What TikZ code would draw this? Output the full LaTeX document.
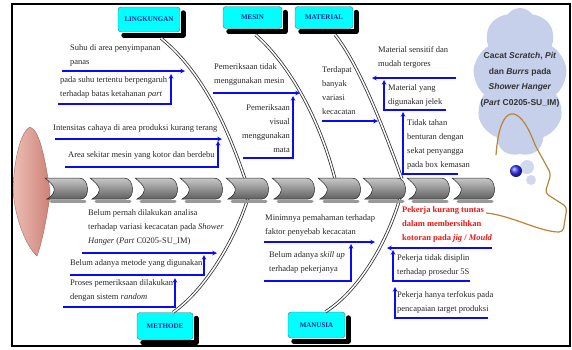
\documentclass[tikz,border=0pt]{standalone}
\usepackage{fontspec}
\setmainfont{Liberation Serif}
\setsansfont{Liberation Sans}
\usetikzlibrary{shapes.symbols}

\definecolor{biru}{RGB}{10,10,245}
\definecolor{awan}{RGB}{198,208,234}
\definecolor{emas}{RGB}{184,134,52}
\definecolor{kotak}{RGB}{0,255,255}
\definecolor{teksbiru}{RGB}{20,30,150}
\definecolor{merah}{RGB}{240,20,20}
\definecolor{ekor}{RGB}{236,190,180}
\definecolor{ekorgelap}{RGB}{205,130,120}
\definecolor{ruasatas}{RGB}{200,200,200}
\definecolor{ruasbawah}{RGB}{95,95,95}

\begin{document}
\begin{tikzpicture}[x=1pt, y=-1pt,
    ket/.style={inner sep=0pt, anchor=north west, align=left, text=black!85, font=\fontsize{8.5}{14}\selectfont},
    panah/.style={->, >=stealth, draw=biru, line width=1.1pt},
    tulang/.style={draw=black!80, line width=0.8pt, double=white, double distance=1.5pt},
    kategori/.style={draw=black!60, fill=kotak, rounded corners=3pt, text=teksbiru, inner sep=1pt,
        font=\fontsize{7}{8}\selectfont\bfseries},
    bayang/.style={draw=black, line width=5pt, line join=round, line cap=round},
    ruas/.style={draw=black!85, line width=0.5pt, top color=ruasatas, bottom color=ruasbawah}]
    \useasboundingbox (0,0) rectangle (572,349);

    \path[left color=ekor, right color=ekorgelap, draw=ekorgelap!80!black, line width=0.4pt]
        (50,190) .. controls (45,160) and (40,130) .. (30,127)
        .. controls (19,133) and (14,165) .. (13,188)
        .. controls (14,215) and (25,245) .. (37,256)
        .. controls (43,240) and (47,215) .. (50,196) -- cycle;

    \coordinate (tl) at (245,179);
    \coordinate (tm) at (335,179);
    \coordinate (tr) at (402,179);
    \coordinate (bl) at (248,198);
    \coordinate (bm) at (400,198);

    \node[kategori, minimum width=62, minimum height=25] (lingk) at (149,19.5) {LINGKUNGAN};
    \node[kategori, minimum width=59, minimum height=22] (mesin) at (252.5,17.5) {MESIN};
    \node[kategori, minimum width=58, minimum height=22] (mat) at (324,17.5) {MATERIAL};
    \node[kategori, minimum width=56, minimum height=27] (meth) at (165,326) {METHODE};
    \node[kategori, minimum width=57, minimum height=26] (manu) at (316.5,325) {MANUSIA};
    \foreach \kt in {lingk,mesin,mat,meth,manu} {
        \draw[bayang] ([xshift=6pt, yshift=-2.8pt]\kt.south west) -- ([xshift=2.8pt, yshift=-2.8pt]\kt.south east)
            -- ([xshift=2.8pt, yshift=-6pt]\kt.north east);
    }

    \draw[tulang] ([xshift=12pt, yshift=-6pt]lingk.south) .. controls (200,70) and (225,120) .. (tl);
    \draw[tulang] ([xshift=3pt, yshift=-6pt]mesin.south) .. controls (290,65) and (320,120) .. (tm);
    \draw[tulang] ([xshift=11pt, yshift=-6pt]mat.south) .. controls (357,62) and (380,118) .. (tr);
    \draw[tulang] ([xshift=8pt]meth.north) .. controls (205,290) and (235,240) .. (bl);
    \draw[tulang] ([xshift=9pt]manu.north) .. controls (360,290) and (388,240) .. (bm);

    \foreach \sx in {45,90,135,180,226,272,318,363,407,452} {
        \draw[black!40, line width=3pt, line cap=round] (\sx+6,201) -- (\sx+40,201);
        \path[ruas] (\sx,178) -- (\sx+34,178) .. controls (\sx+45,178) and (\sx+45,199) .. (\sx+36,199)
            -- (\sx+2,199) .. controls (\sx+8,196) and (\sx+10,191) .. (\sx+9,188)
            .. controls (\sx+8,185) and (\sx+4,181) .. (\sx,178) -- cycle;
    }

    \node[ket] (t1) at (70,44) {Suhu di area penyimpanan\\panas};
    \node[ket] (t2) at (60,76) {pada suhu tertentu berpengaruh\\terhadap batas ketahanan \textit{part}};
    \node[ket] (t3) at (53,124) {Intensitas cahaya di area produksi kurang terang};
    \node[ket] (t4) at (68,151) {Area sekitar mesin yang kotor dan berdebu};
    \node[ket] (t5) at (214,63) {Pemeriksaan tidak\\menggunakan mesin};
    \node[ket, anchor=north east, align=right] (t6) at (290,104) {Pemeriksaan\\visual\\menggunakan\\mata};
    \node[ket] (t7) at (322,66) {Terdapat\\banyak\\variasi\\kecacatan};
    \node[ket] (t8) at (378,46) {Material sensitif dan\\mudah tergores};
    \node[ket] (t9) at (388,84) {Material yang\\digunakan jelek};
    \node[ket] (t10) at (407,119) {Tidak tahan\\benturan dengan\\sekat penyangga\\pada box kemasan};
    \node[ket] (t11) at (88,209) {Belum pernah dilakukan analisa\\terhadap variasi kecacatan pada \textit{Shower}\\\textit{Hanger} (\textit{Part} C0205-SU\_IM)};
    \node[ket] (t12) at (70,259) {Belum adanya metode yang digunakan};
    \node[ket] (t13) at (70,279) {Proses pemeriksaan dilakukan\\dengan sistem \textit{random}};
    \node[ket] (t14) at (265,214) {Minimnya pemahaman terhadap\\faktor penyebab kecacatan};
    \node[ket] (t15) at (269,251) {Belum adanya \textit{skill up}\\terhadap pekerjanya};
    \node[ket, text=merah, font=\fontsize{8.5}{14}\selectfont\bfseries] (t16) at (402,206) {Pekerja kurang tuntas\\dalam membersihkan\\kotoran pada \textit{jig} / \textit{Mould}};
    \node[ket] (t17) at (397,254) {Pekerja tidak disiplin\\terhadap prosedur 5S};
    \node[ket] (t18) at (397,291) {Pekerja hanya terfokus pada\\pencapaian target produksi};

    \coordinate (a1) at (62,71);    \coordinate (b1) at (185,71);
    \coordinate (a2) at (58,104);   \coordinate (b2) at (171,74);
    \coordinate (a3) at (55,139);   \coordinate (b3) at (222,139);
    \coordinate (a4) at (65,167);   \coordinate (b4) at (218,141);
    \coordinate (a5) at (213,93);   \coordinate (b5) at (300,93);
    \coordinate (a6) at (243,158);  \coordinate (b6) at (293,96);
    \coordinate (a7) at (322,121);  \coordinate (b7) at (378,121);
    \coordinate (a8) at (456,78);   \coordinate (b8) at (372,78);
    \coordinate (a9) at (446,110);  \coordinate (b9) at (384,80);
    \coordinate (a10) at (458,174); \coordinate (b10) at (403,112);
    \coordinate (a11) at (82,253);  \coordinate (b11) at (217,253);
    \coordinate (a12) at (70,275);  \coordinate (b12) at (204,255);
    \coordinate (a13) at (63,307);  \coordinate (b13) at (175,278);
    \coordinate (a14) at (264,242); \coordinate (b14) at (375,242);
    \coordinate (a15) at (264,281); \coordinate (b15) at (351,244);
    \coordinate (a16) at (492,248); \coordinate (b16) at (387,248);
    \coordinate (a17) at (470,281); \coordinate (b17) at (393,250);
    \coordinate (a18) at (488,318); \coordinate (b18) at (395,287);

    \foreach \k in {1,3,5,7,8,11,14,16} {
        \draw[panah] (a\k) -- (b\k);
    }
    \foreach \k in {2,4,6,9,10,12,13,15,17,18} {
        \draw[panah] (a\k) -| (b\k);
    }

    \node[cloud, cloud puffs=9, cloud puff arc=110, cloud ignores aspect, fill=awan,
        minimum width=94, minimum height=148] (awan) at (520,82) {};
    \node[align=center, text=black!80, font=\sffamily\bfseries\fontsize{8.5}{15.5}\selectfont] (judul) at (520,80)
        {Cacat \textit{Scratch}, \textit{Pit}\\dan \textit{Burrs} pada\\\textit{Shower Hanger}\\(\textit{Part} C0205-SU\_IM)};
    \fill[awan, opacity=0.8] (527,167) circle (7);
    \fill[awan, opacity=0.8] (531,180) circle (5);
    \shade[ball color=blue!80] (516,171) circle (6);

    \coordinate (c1) at (496,155);
    \coordinate (c2) at (486,213);
    \draw[emas, line width=1.2pt, rounded corners=4pt] (c1) .. controls (500,100) and (520,105) .. (535,145)
        -- (551,174) -- (545,193) -- (567,207) -- (563,232)
        .. controls (540,232) and (510,215) .. (c2);

    \draw[line width=1.5pt] (12,4) rectangle (570,346);
\end{tikzpicture}
\end{document}
